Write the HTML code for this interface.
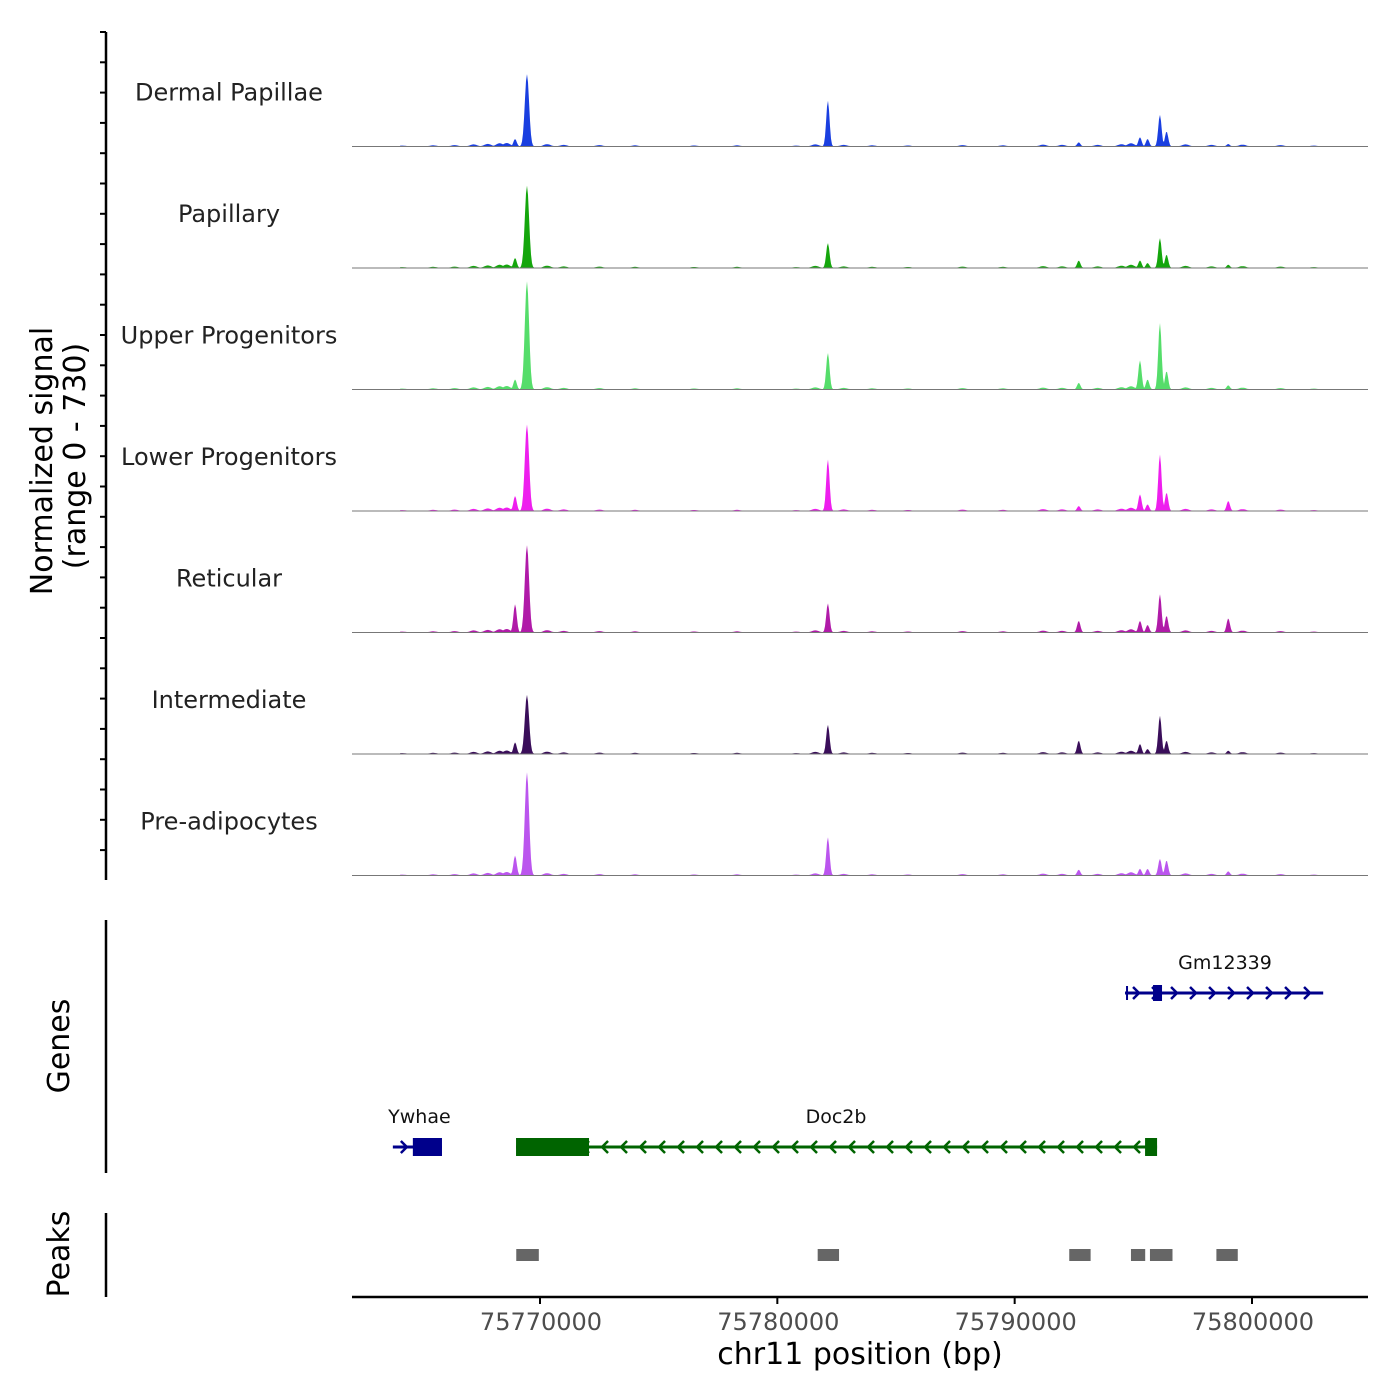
<!DOCTYPE html>
<html><head><meta charset="utf-8"><style>
body{margin:0;background:#fff;}
svg{display:block;font-family:"DejaVu Sans","Liberation Sans",sans-serif;}
</style></head><body>
<svg id="chart" width="1400" height="1400" viewBox="0 0 1400 1400" xmlns="http://www.w3.org/2000/svg">
<g id="tracks"></g>
<g id="genes"></g>
<g id="peaks"></g>
<g id="axes"></g>
</svg>
<script>
// ---- data ----
const trackNames = ["Dermal Papillae","Papillary","Upper Progenitors","Lower Progenitors","Reticular","Intermediate","Pre-adipocytes"];
const trackColors = ["#1a3fe0","#14a60c","#55dd6a","#ee1eee","#b01aa8","#3a0e5a","#bb55ee"];
const yRangeMax = 730;
// peak positions in kb (chr11 position / 1000)
const peakPositions = [75768.95, 75769.45, 75782.13, 75792.7, 75795.28, 75795.6, 75796.12, 75796.4, 75799.0];
const peakDermal = [45, 435, 275, 25, 55, 45, 190, 90, 15];
const peakPapillary = [60, 495, 150, 45, 45, 30, 180, 80, 20];
const peakUpper = [60, 650, 220, 40, 175, 60, 400, 110, 25];
const peakLower = [90, 520, 310, 30, 100, 40, 340, 110, 60];
const peakReticular = [170, 525, 175, 70, 70, 45, 230, 100, 85];
const peakIntermediate = [70, 355, 175, 80, 60, 30, 230, 80, 20];
const peakPreAdip = [120, 620, 230, 35, 40, 40, 100, 90, 25];
const peakValues = [peakDermal, peakPapillary, peakUpper, peakLower, peakReticular, peakIntermediate, peakPreAdip];
// low background signal (kb position, value)
const bgPositions = [75764.2,75765.5,75766.4,75767.2,75767.8,75768.3,75768.6,75770.3,75771.0,75772.5,75774.0,75776.5,75778.3,75780.8,75781.6,75782.8,75784.0,75785.5,75787.8,75789.5,75791.2,75792.0,75793.5,75794.5,75794.9,75797.2,75798.3,75799.6,75801.2,75802.6];
const bgValues = [8,10,12,18,22,28,30,20,14,12,10,9,10,8,18,14,10,9,12,10,16,14,14,20,28,18,14,16,12,8];
const geneNames = ["Gm12339","Ywhae","Doc2b"];
const geneStarts = [75794.65, 75763.8, 75768.99];
const geneEnds = [75803.0, 75765.87, 75796.0];
const geneStrand = [1, 1, -1];
const peakStarts = [75769.0, 75781.7, 75792.3, 75794.9, 75795.7, 75798.5];
const peakEnds = [75769.95, 75782.6, 75793.2, 75795.5, 75796.65, 75799.4];
const xTicks = [75770000, 75780000, 75790000, 75800000];

// ---- scales ----
const NS="http://www.w3.org/2000/svg";
const pxPerKb = (1252-540)/30;
const x = kb => 540 + (kb - 75770) * pxPerKb;
const trackTop = 25, trackH = 121.5;
function el(tag, attrs, parent){const e=document.createElementNS(NS,tag);for(const k in attrs)e.setAttribute(k,attrs[k]);parent.appendChild(e);return e;}
const gT=document.getElementById('tracks');
trackNames.forEach((name,i)=>{
  const base = trackTop + trackH*(i+1);
  const yv = v => base - v/yRangeMax*trackH;
  let d = `M400,${base}`;
  for(let px=400;px<=1322;px+=1){
    const kb = 75770 + (px-540)/pxPerKb;
    let v=0;
    peakPositions.forEach((p,j)=>{const w=(j===1?0.09:0.07);v=Math.max(v,peakValues[i][j]*Math.exp(-((kb-p)*(kb-p))/(2*w*w)));});
    bgPositions.forEach((p,j)=>{const w=0.15;v=Math.max(v,bgValues[j]*0.7*Math.exp(-((kb-p)*(kb-p))/(2*w*w)));});
    v=Math.max(v,3);
    d+=` L${px},${yv(v).toFixed(1)}`;
  }
  d+=` L1322,${base} Z`;
  const a=el('path',{d,fill:trackColors[i]},gT);
  
  
  const bl=el('line',{x1:352,x2:1368,y1:base,y2:base,stroke:'#777','stroke-width':1},gT);
  
  
  const t=el('text',{x:229,y:base-46,'text-anchor':'middle','font-size':24,fill:'#222'},gT);
  t.textContent=name;
  
  
});

// genes
const gG=document.getElementById('genes');
geneNames.forEach((g,i)=>{
  const y = i===0?993:1147;
  const color = geneStrand[i]>0?'#00008b':'#006400';
  const x1=x(geneStarts[i]), x2=x(geneEnds[i]);
  const grp=el('g',{},gG);
  
  
  el('line',{x1,x2,y1:y,y2:y,stroke:color,'stroke-width':3},grp);
  for(let ax=x1+12; ax<x2-6; ax+=19){
    const dir=geneStrand[i];
    el('polyline',{points:`${ax-4*dir},${y-6} ${ax+2*dir},${y} ${ax-4*dir},${y+6}`,fill:'none',stroke:color,'stroke-width':2.5},grp);
  }
  if(i===0){ el('rect',{x:x1+28,y:y-8,width:9,height:16,fill:color},grp); el('line',{x1:x1+2,x2:x1+2,y1:y-7,y2:y+7,stroke:color,'stroke-width':2},grp);}
  if(i===1){ el('rect',{x:x1+20,y:y-9,width:x2-x1-20,height:18,fill:color},grp);}
  if(i===2){ el('rect',{x:x1,y:y-9,width:73,height:18,fill:color},grp); el('rect',{x:x2-12,y:y-9,width:12,height:18,fill:color},grp);}
  const t=el('text',{x:i===2?836:(i===0?1225:(x1+x2)/2+2),y:y-24,'text-anchor':'middle','font-size':19,fill:'#111'},grp);
  t.textContent=g;
  
  
});

// peaks
const gP=document.getElementById('peaks');
peakStarts.forEach((s,i)=>{
  const r=el('rect',{x:x(s),y:1249,width:x(peakEnds[i])-x(s),height:12,fill:'#666'},gP);
  
  
});

// axes
const gA=document.getElementById('axes');
el('line',{x1:106,x2:106,y1:32,y2:880,stroke:'#000','stroke-width':2.5},gA);
for(let ty=32;ty<=880;ty+=30.3){el('line',{x1:100,x2:106,y1:ty,y2:ty,stroke:'#000','stroke-width':2},gA);}
el('line',{x1:106,x2:106,y1:920,y2:1173,stroke:'#000','stroke-width':2.5},gA);
el('line',{x1:106,x2:106,y1:1213,y2:1297,stroke:'#000','stroke-width':2.5},gA);
el('line',{x1:352,x2:1368,y1:1297,y2:1297,stroke:'#000','stroke-width':2.5},gA);
xTicks.forEach(v=>{
  const px=x(v/1000);
  el('line',{x1:px,x2:px,y1:1297,y2:1304,stroke:'#000','stroke-width':2},gA);
  const t=el('text',{x:px+1,y:1330,'text-anchor':'middle','font-size':24,fill:'#4d4d4d'},gA);
  t.textContent=String(v);
  
  
});
function label(txt,xx,yy,size,rot,name){const t=el('text',{x:xx,y:yy,'text-anchor':'middle','font-size':size,fill:'#000',transform:rot?`rotate(-90 ${xx} ${yy})`:''},gA);t.textContent=txt;}
label('chr11 position (bp)',860,1364,30,false,'x-axis-title');
label('Normalized signal',52,461,30,true,'y-axis-title');
label('(range 0 - 730)',85,456,30,true,'y-axis-range');
label('Genes',69,1046,30,true,'genes-axis-title');
label('Peaks',69,1254,30,true,'peaks-axis-title');
</script>
</body></html>
